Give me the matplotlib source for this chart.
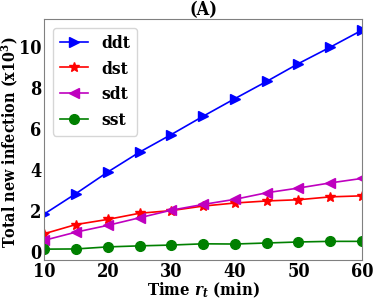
import numpy as np
import matplotlib
matplotlib.use("Agg")
import matplotlib.pyplot as plt

# data
time = [10, 15, 20, 25, 30, 35, 40, 45, 50, 55, 60]
ddt = [1.83, 2.83, 3.88, 4.85, 5.71, 6.6, 7.46, 8.3, 9.17, 9.97, 10.8]
dst = [0.87, 1.32, 1.57, 1.87, 2.0, 2.22, 2.37, 2.47, 2.53, 2.67, 2.72]
sdt = [0.55, 0.95, 1.28, 1.65, 2.02, 2.3, 2.55, 2.87, 3.1, 3.35, 3.57]
sst = [0.12, 0.13, 0.23, 0.28, 0.32, 0.38, 0.37, 0.42, 0.47, 0.5, 0.5]

plt.rcParams['font.family'] = 'DejaVu Serif'
plt.rcParams['font.weight'] = 'bold'
plt.rcParams['font.stretch'] = 'condensed'
plt.rcParams['mathtext.fontset'] = 'dejavuserif'

fig = plt.figure(figsize=(3.74, 3.0), dpi=100)
ax = fig.add_axes([0.118, 0.133, 0.85, 0.803])

ax.plot(time, ddt, color='b', marker='>', markersize=7, lw=1.2, label='ddt')
ax.plot(time, dst, color='r', marker='*', markersize=7, lw=1.2, label='dst')
ax.plot(time, sdt, color='m', marker='<', markersize=7, lw=1.2, label='sdt')
ax.plot(time, sst, color='g', marker='o', markersize=7, lw=1.2, label='sst')

ax.set_xlim(10, 60)
ax.set_xticks([10, 20, 30, 40, 50, 60])
ax.set_yticks([0, 2, 4, 6, 8, 10])
ax.tick_params(labelsize=13, length=0, pad=2)
for s in ax.spines.values():
    s.set_color('grey')

ax.set_title('(A)', fontsize=13, fontweight='bold', pad=3)
ax.set_xlabel(r'Time $\boldsymbol{r_t}$ (min)', fontsize=12, fontweight='bold', labelpad=0)
ax.set_ylabel(r'Total new infection (x10$^{\mathbf{3}}$)', fontsize=11.5, fontweight='bold')
ax.yaxis.set_label_coords(-0.075, 0.49)

leg = ax.legend(loc='upper left', handlelength=1.6, borderaxespad=0.5,
                prop={'weight': 'bold', 'size': 12.5, 'stretch': 'condensed'})

fig.savefig('out.png', dpi=100)
